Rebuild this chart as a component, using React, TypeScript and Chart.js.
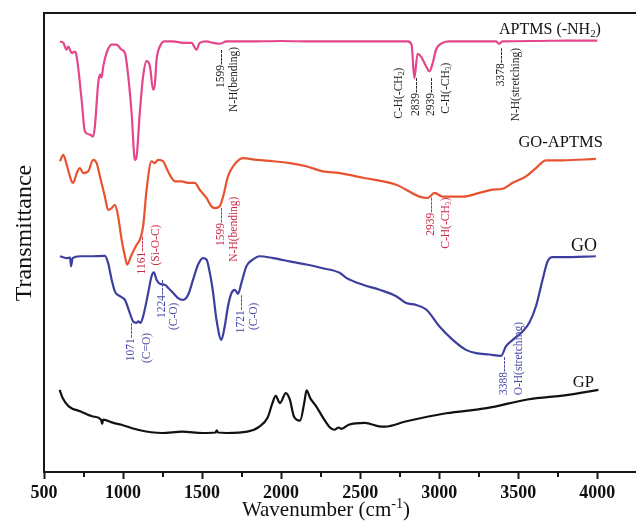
import { useEffect, useRef } from "react";
import { Chart, registerables } from "chart.js";

Chart.register(...registerables);

// [wavenumber (cm-1), transmittance (a.u., offset)]
const APTMS: [number, number][] = [
  [601, 93.8], [622, 93.5], [643, 92.0], [653, 92.7], [675, 91.3], [696, 91.6], [707, 90.5],
  [738, 81.1], [759, 74.2], [791, 73.5], [811, 73.1], [822, 75.3], [843, 84.8], [854, 86.6],
  [864, 85.9], [875, 88.4], [896, 91.3], [928, 93.1], [959, 93.1], [991, 92.0], [1012, 91.3],
  [1033, 86.2], [1054, 78.3], [1075, 68.0], [1086, 68.8], [1106, 78.3], [1127, 86.2], [1149, 89.5],
  [1170, 88.4], [1190, 83.3], [1201, 84.4], [1212, 89.8], [1233, 92.7], [1264, 93.8], [1317, 93.8],
  [1380, 93.5], [1433, 93.5], [1465, 92.0], [1485, 93.5], [1528, 93.8], [1570, 93.5], [1612, 93.3],
  [1654, 93.8], [1800, 93.8], [2000, 93.9], [2200, 93.8], [2400, 93.8], [2600, 93.8], [2800, 93.8],
  [2825, 93.1], [2843, 85.8], [2863, 91.1], [2885, 90.5], [2917, 88.4], [2938, 87.3], [2959, 89.1],
  [2980, 92.0], [3022, 93.5], [3064, 93.8], [3200, 93.8], [3360, 93.8], [3378, 93.3], [3400, 93.8],
  [3600, 93.9], [3800, 94.0], [4000, 94.0],
];

const GO_APTMS: [number, number][] = [
  [601, 67.7], [622, 69.1], [643, 67.0], [675, 63.3], [685, 63.0], [707, 65.1], [727, 66.2],
  [748, 65.1], [780, 65.5], [811, 68.0], [833, 67.3], [854, 64.4], [885, 60.0], [906, 57.1],
  [928, 57.5], [949, 58.2], [969, 55.7], [991, 50.6], [1012, 47.0], [1026, 45.2], [1054, 47.3],
  [1086, 49.5], [1106, 50.6], [1127, 53.5], [1149, 61.5], [1180, 67.7], [1201, 67.3], [1222, 68.0],
  [1254, 67.7], [1275, 66.2], [1307, 64.1], [1328, 63.3], [1370, 63.3], [1412, 63.0], [1454, 63.0],
  [1485, 61.5], [1528, 59.7], [1559, 57.9], [1580, 57.5], [1612, 57.9], [1633, 60.0], [1664, 64.4],
  [1696, 66.6], [1759, 68.4], [1844, 68.0], [1949, 67.7], [2054, 67.3], [2159, 66.6], [2264, 65.5],
  [2370, 65.1], [2517, 64.1], [2728, 62.6], [2875, 60.0], [2928, 59.7], [2970, 60.8], [3022, 60.0],
  [3149, 60.0], [3254, 60.8], [3338, 61.5], [3401, 61.7], [3465, 63.0], [3549, 64.4], [3612, 66.2],
  [3676, 67.9], [3780, 67.9], [3991, 68.2],
];

const GO: [number, number][] = [
  [601, 47.0], [643, 46.6], [665, 46.7], [671, 44.8], [681, 46.6], [727, 47.0], [791, 47.0],
  [885, 47.1], [906, 45.5], [928, 41.9], [949, 39.3], [980, 38.3], [1012, 37.5], [1043, 34.6],
  [1064, 32.8], [1086, 32.5], [1096, 32.8], [1111, 32.5], [1127, 33.9], [1159, 39.0], [1180, 42.6],
  [1195, 43.5], [1212, 41.9], [1233, 41.0], [1264, 40.8], [1286, 40.1], [1317, 39.0], [1348, 37.9],
  [1380, 37.5], [1412, 38.6], [1443, 41.9], [1475, 45.2], [1506, 46.6], [1528, 46.3], [1549, 43.4],
  [1570, 39.0], [1591, 33.2], [1622, 28.8], [1643, 31.7], [1664, 36.1], [1686, 39.0], [1707, 39.7],
  [1727, 38.8], [1749, 41.2], [1780, 44.8], [1822, 46.3], [1864, 47.0], [1949, 46.6], [2054, 45.9],
  [2159, 45.2], [2264, 44.4], [2370, 43.4], [2412, 42.3], [2517, 40.8], [2623, 39.7], [2728, 38.3],
  [2791, 36.8], [2854, 36.4], [2918, 35.4], [3002, 31.7], [3086, 28.8], [3170, 26.6], [3233, 25.9],
  [3317, 25.6], [3391, 25.3], [3423, 27.4], [3465, 28.8], [3528, 30.6], [3570, 32.5], [3612, 36.1],
  [3654, 41.9], [3686, 45.9], [3717, 46.8], [3780, 46.8], [3991, 47.0],
];

const GP: [number, number][] = [
  [599, 17.9], [618, 16.1], [656, 14.3], [732, 13.2], [810, 12.1], [861, 11.4], [868, 10.5],
  [874, 11.4], [939, 10.7], [990, 10.3], [1093, 9.2], [1247, 8.5], [1375, 8.8], [1503, 8.5],
  [1585, 8.6], [1593, 9.1], [1600, 8.6], [1658, 8.5], [1786, 8.8], [1863, 9.9], [1914, 11.8],
  [1945, 15.0], [1966, 16.6], [1992, 15.0], [2030, 17.2], [2055, 15.8], [2081, 12.1], [2120, 11.2],
  [2146, 15.0], [2161, 17.8], [2184, 16.1], [2222, 14.3], [2273, 11.4], [2312, 9.6], [2338, 9.2],
  [2363, 9.7], [2382, 9.4], [2428, 10.3], [2530, 10.7], [2633, 9.9], [2659, 9.9], [2787, 11.0],
  [3044, 12.8], [3301, 13.9], [3558, 15.8], [3815, 16.8], [4007, 17.9],
];

const SERIES_NAMES = ["APTMS (-NH₂)", "GO-APTMS", "GO", "GP"];
const SERIES_COLORS = ["#e4458b", "#e8532f", "#3c3f9d", "#111111"];
// label anchor: [right-edge wavenumber, baseline value, font size]
const SERIES_LABEL_POS: [number, number, number][] = [
  [4023, 95.5, 16],
  [4035, 70.7, 16.5],
  [3998, 48.2, 18],
  [3979, 18.6, 16.5],
];

const X_TICKS = [500, 1000, 1500, 2000, 2500, 3000, 3500, 4000];
const X_TICK_LABELS = ["500", "1000", "1500", "2000", "2500", "3000", "3500", "4000"];
const X_MINOR = [750, 1250, 1750, 2250, 2750, 3250, 3750];
const X_MIN = 500;
const X_MAX = 4245;

// peak notes: [text, wavenumber of column, value at top end of text]
const APTMS_NOTES: [string, number, number][] = [
  ["1599----", 1612, 92.0],
  ["N-H(bending)", 1694, 92.6],
  ["C-H(-CH₂)", 2738, 88.1],
  ["2839----", 2845, 85.9],
  ["2939----", 2941, 85.9],
  ["C-H(-CH₃)", 3036, 89.2],
  ["3378----", 3384, 92.4],
  ["N-H(stretching)", 3479, 92.4],
];
const GO_APTMS_NOTES: [string, number, number][] = [
  ["1161----", 1116, 51.3],
  ["(Si-O-C)", 1201, 53.9],
  ["1599----", 1612, 57.6],
  ["N-H(bending)", 1696, 60.0],
  ["2939----", 2941, 59.8],
  ["C-H(-CH₃)", 3036, 59.8],
];
const GO_NOTES: [string, number, number][] = [
  ["1071----", 1042, 32.5],
  ["(C=O)", 1148, 30.3],
  ["1224----", 1243, 41.9],
  ["(C-O)", 1316, 36.9],
  ["1721----", 1739, 38.6],
  ["(C-O)", 1823, 36.9],
  ["3388----", 3405, 25.1],
  ["O-H(stretching)", 3500, 32.7],
];
const NOTE_GROUPS: { color: string; notes: [string, number, number][] }[] = [
  { color: "#222222", notes: APTMS_NOTES },
  { color: "#c92a45", notes: GO_APTMS_NOTES },
  { color: "#4848a6", notes: GO_NOTES },
];

const X_TITLE = "Wavenumber (cm⁻¹)";
const Y_TITLE = "Transmittance";

const FAMILY = '"Liberation Serif", "Times New Roman", "DejaVu Serif", serif';
const SUBS = "₀₁₂₃₄₅₆₇₈₉";
const SUPS: Record<string, string> = { "⁻": "-", "¹": "1", "²": "2", "³": "3" };

type Run = { s: string; k: "n" | "sub" | "sup" };
function toRuns(text: string): Run[] {
  const runs: Run[] = [];
  for (const ch of text) {
    let k: Run["k"] = "n";
    let s = ch;
    const si = SUBS.indexOf(ch);
    if (si >= 0) { k = "sub"; s = String(si); }
    else if (SUPS[ch] !== undefined) { k = "sup"; s = SUPS[ch]; }
    const last = runs[runs.length - 1];
    if (last && last.k === k) last.s += s;
    else runs.push({ s, k });
  }
  return runs;
}

function drawRich(
  ctx: CanvasRenderingContext2D,
  text: string,
  x: number,
  y: number,
  size: number,
  align: "left" | "right" | "center",
  weight = "normal"
) {
  const runs = toRuns(text);
  const fontFor = (k: Run["k"]) =>
    `${weight} ${k === "n" ? size : size * 0.68}px ${FAMILY}`;
  let total = 0;
  const widths = runs.map((r) => {
    ctx.font = fontFor(r.k);
    const w = ctx.measureText(r.s).width;
    total += w;
    return w;
  });
  let cx = align === "right" ? x - total : align === "center" ? x - total / 2 : x;
  ctx.textAlign = "left";
  ctx.textBaseline = "alphabetic";
  runs.forEach((r, i) => {
    ctx.font = fontFor(r.k);
    const dy = r.k === "sub" ? size * 0.22 : r.k === "sup" ? -size * 0.38 : 0;
    ctx.fillText(r.s, cx, y + dy);
    cx += widths[i];
  });
}

const decorPlugin = {
  id: "decor",
  afterDraw(chart: any) {
    const { ctx, chartArea, scales } = chart;
    const x = scales.x;
    const y = scales.y;
    ctx.save();
    // top frame line
    ctx.strokeStyle = "#161616";
    ctx.lineWidth = 2;
    ctx.beginPath();
    ctx.moveTo(chartArea.left - 1, chartArea.top);
    ctx.lineTo(chart.width, chartArea.top);
    ctx.stroke();
    // minor ticks
    ctx.beginPath();
    for (const v of X_MINOR) {
      const px = Math.round(x.getPixelForValue(v));
      ctx.moveTo(px, chartArea.bottom);
      ctx.lineTo(px, chartArea.bottom + 5);
    }
    ctx.stroke();

    // peak notes (rotated)
    for (const g of NOTE_GROUPS) {
      ctx.fillStyle = g.color;
      for (const [t, wn, top] of g.notes) {
        ctx.save();
        ctx.translate(x.getPixelForValue(wn), y.getPixelForValue(top));
        ctx.rotate(-Math.PI / 2);
        drawRich(ctx, t, 0, 11.5 * 0.34, 11.5, "right");
        ctx.restore();
      }
    }

    // series names
    ctx.fillStyle = "#111111";
    SERIES_NAMES.forEach((name, i) => {
      const [wn, v, size] = SERIES_LABEL_POS[i];
      drawRich(ctx, name, x.getPixelForValue(wn), y.getPixelForValue(v), size, "right");
    });

    // axis titles
    ctx.fillStyle = "#111111";
    drawRich(ctx, X_TITLE, 326, 516, 21, "center");
    ctx.save();
    ctx.translate(23 + 24 * 0.34, 233);
    ctx.rotate(-Math.PI / 2);
    drawRich(ctx, Y_TITLE, 0, 0, 24, "center");
    ctx.restore();

    ctx.restore();
  },
};

const toXY = (arr: [number, number][]) => arr.map(([x, y]) => ({ x, y }));

export default function App() {
  const ref = useRef<HTMLCanvasElement | null>(null);
  useEffect(() => {
    if (!ref.current) return;
    const series = [APTMS, GO_APTMS, GO, GP];
    const chart = new Chart(ref.current, {
      type: "line",
      data: {
        datasets: series.map((s, i) => ({
          label: SERIES_NAMES[i],
          data: toXY(s),
          borderColor: SERIES_COLORS[i],
          borderWidth: 2.2,
          pointRadius: 0,
          fill: false,
          cubicInterpolationMode: "monotone" as const,
        })),
      },
      options: {
        responsive: false,
        animation: false,
        devicePixelRatio: 1,
        layout: { padding: { top: 13, left: 0, right: 0, bottom: 0 } },
        plugins: { legend: { display: false }, tooltip: { enabled: false } },
        scales: {
          x: {
            type: "linear",
            min: X_MIN,
            max: X_MAX,
            afterBuildTicks: (scale: any) => {
              scale.ticks = X_TICKS.map((v) => ({ value: v }));
            },
            afterFit: (scale: any) => {
              scale.height = 51;
            },
            ticks: {
              callback: (v: any) => {
                const i = X_TICKS.indexOf(Number(v));
                return i >= 0 ? X_TICK_LABELS[i] : "";
              },
              font: { family: FAMILY, size: 18, weight: "bold" },
              color: "#111111",
              padding: 4,
              maxRotation: 0,
              autoSkip: false,
            },
            grid: {
              display: true,
              drawOnChartArea: false,
              drawTicks: true,
              tickLength: 7,
              tickWidth: 2,
              tickColor: "#161616",
            },
            border: { display: true, width: 2, color: "#161616" },
          },
          y: {
            type: "linear",
            min: 0,
            max: 100,
            afterFit: (scale: any) => {
              scale.width = 44;
            },
            ticks: { display: false },
            grid: { display: false },
            border: { display: true, width: 2, color: "#161616" },
          },
        },
      },
      plugins: [decorPlugin],
    });
    return () => chart.destroy();
  }, []);
  return (
    <div style={{ position: "absolute", left: 0, top: 0, width: 636, height: 523, background: "#fff" }}>
      <canvas ref={ref} width={636} height={523} style={{ display: "block" }} />
    </div>
  );
}
